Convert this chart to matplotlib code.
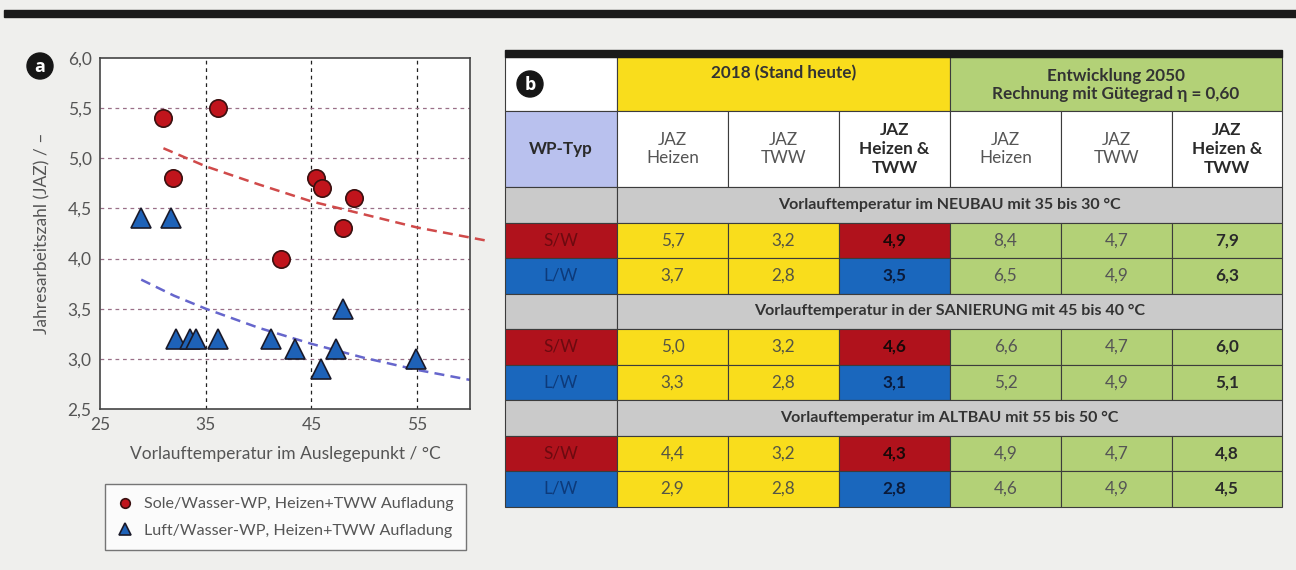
import matplotlib.pyplot as plt
from matplotlib.patches import Rectangle, Circle

W, H = 1296, 570

# panel a: measured JAZ over flow temperature
sole_x = [31.0, 36.2, 31.9, 45.4, 46.0, 49.0, 48.0, 42.1]
sole_y = [5.4, 5.5, 4.8, 4.8, 4.7, 4.6, 4.3, 4.0]
luft_x = [28.9, 31.7, 32.2, 33.5, 34.1, 36.2, 41.2, 43.4, 45.9, 47.3, 48.0, 54.9]
luft_y = [4.4, 4.4, 3.2, 3.2, 3.2, 3.2, 3.2, 3.1, 2.9, 3.1, 3.5, 3.0]

# trend curves
sole_trend_x = [31, 35, 40, 45, 50, 55, 60, 61.5]
sole_trend_y = [5.10, 4.92, 4.74, 4.57, 4.44, 4.31, 4.21, 4.18]
luft_trend_x = [28.9, 32, 35, 40, 45, 50, 55, 60]
luft_trend_y = [3.79, 3.63, 3.50, 3.31, 3.15, 3.01, 2.89, 2.79]

xticks = [25, 35, 45, 55]
yticks = [2.5, 3.0, 3.5, 4.0, 4.5, 5.0, 5.5, 6.0]

# panel b: table
head_2018 = "2018 (Stand heute)"
head_2050 = "Entwicklung 2050\nRechnung mit Gütegrad η = 0,60"
col_heads = ["JAZ\nHeizen", "JAZ\nTWW", "JAZ\nHeizen &\nTWW"] * 2
sections = ["Vorlauftemperatur im NEUBAU mit 35 bis 30 °C",
            "Vorlauftemperatur in der SANIERUNG mit 45 bis 40 °C",
            "Vorlauftemperatur im ALTBAU mit 55 bis 50 °C"]
sw_2018 = [[5.7, 3.2, 4.9], [5.0, 3.2, 4.6], [4.4, 3.2, 4.3]]
lw_2018 = [[3.7, 2.8, 3.5], [3.3, 2.8, 3.1], [2.9, 2.8, 2.8]]
sw_2050 = [[8.4, 4.7, 7.9], [6.6, 4.7, 6.0], [4.9, 4.7, 4.8]]
lw_2050 = [[6.5, 4.9, 6.3], [5.2, 4.9, 5.1], [4.6, 4.9, 4.5]]

BG = "#efefed"
RED = "#b0121c"
BLUE = "#1a67bd"
YEL = "#f9dd1c"
GRN = "#b3d177"
LAV = "#b9c1ee"
GREY = "#cacaca"
LINE = "#3c3c3c"

light = ["Lato", "DejaVu Sans"]
narrow = ["Lato", "DejaVu Sans"]


def fmt(v):
    return f"{v:.1f}".replace(".", ",")


fig = plt.figure(figsize=(W / 100, H / 100), dpi=100, facecolor=BG)

# overlay in pixel units for the table and decorations
ov = fig.add_axes([0, 0, 1, 1], zorder=0)
ov.set_xlim(0, W)
ov.set_ylim(H, 0)
ov.axis("off")
ov.add_patch(Rectangle((4, 10), W, 7, color="#1a1a1a"))


def badge(x, y, s):
    ov.add_patch(Circle((x, y), 13, color="#161616"))
    ov.text(x, y + 1, s, color="white", fontsize=13, fontweight="bold",
            ha="center", va="center", family=["Open Sans", "DejaVu Sans"])


badge(40, 66, "a")

# scatter panel
ax = fig.add_axes([100 / W, 1 - 409 / H, 370 / W, 351 / H], zorder=2)
ax.set_facecolor("white")
ax.set_xlim(25, 60)
ax.set_ylim(2.5, 6.0)
for v in [35, 45, 55]:
    ax.axvline(v, color="#222222", lw=0.9, ls=(0, (3, 3)), zorder=1)
for v in yticks[1:-1]:
    ax.axhline(v, color="#9a7088", lw=0.9, ls=(0, (3, 3)), zorder=1)
ax.plot(sole_trend_x, sole_trend_y, color="#d04a4a", lw=1.8, ls=(0, (4, 2.5)),
        clip_on=False, zorder=2)
ax.plot(luft_trend_x, luft_trend_y, color="#6666cc", lw=1.8, ls=(0, (4, 2.5)),
        zorder=2)
ax.plot(sole_x, sole_y, "o", ms=12.5, mfc="#c0141c", mec="#3a1010", mew=1.2,
        zorder=3, label="Sole/Wasser-WP, Heizen+TWW Aufladung")
ax.plot(luft_x, luft_y, "^", ms=15, mfc="#1e62b8", mec="#1a1a2a", mew=1.2,
        zorder=3, label="Luft/Wasser-WP, Heizen+TWW Aufladung")
ax.set_xticks(xticks, [str(t) for t in xticks])
ax.set_yticks(yticks, [fmt(t) for t in yticks])
ax.tick_params(length=0, labelsize=12.5, labelcolor="#555555", pad=6)
for lab in ax.get_xticklabels() + ax.get_yticklabels():
    lab.set_family(light)
for sp in ax.spines.values():
    sp.set_color("#444444")
    sp.set_linewidth(1.2)
ax.set_xlabel("Vorlauftemperatur im Auslegepunkt / °C", fontsize=12.5,
              color="#555555", family=light, labelpad=9)
ax.set_ylabel("Jahresarbeitszahl (JAZ) / –", fontsize=12.5, color="#555555",
              family=light, labelpad=12)

leg = ax.legend(loc="upper left", bbox_to_anchor=(105 / W, 1 - 484 / H),
                bbox_transform=fig.transFigure, frameon=True, fancybox=False,
                edgecolor="#555555", markerscale=0.55, handlelength=0.9,
                handletextpad=0.7, borderpad=0.8, labelspacing=0.75,
                borderaxespad=0, prop={"family": light, "size": 11.6})
leg.get_frame().set_linewidth(1.0)
for t in leg.get_texts():
    t.set_color("#555555")

# table panel
cx = [505, 617, 728, 839, 950, 1061, 1172, 1282]
lw_ = 0.8


def cell(x0, x1, y0, y1, fc, text="", tc="#444444", bold=False, size=12.3,
         ty=None):
    ov.add_patch(Rectangle((x0, y0), x1 - x0, y1 - y0, facecolor=fc,
                           edgecolor=LINE, lw=lw_))
    if text:
        ov.text((x0 + x1) / 2, (y0 + y1) / 2 if ty is None else ty, text,
                ha="center", va="center", color=tc, fontsize=size,
                fontweight="bold" if bold else "normal", family=narrow,
                linespacing=1.2)


# header rows
cell(cx[0], cx[1], 57, 111, "white")
cell(cx[1], cx[4], 57, 111, YEL, head_2018, tc="#333333", bold=True, ty=73)
cell(cx[4], cx[7], 57, 111, GRN, head_2050, tc="#333333", bold=True, ty=85)
ov.add_patch(Rectangle((cx[0], 50), cx[7] - cx[0], 7, color="#1a1a1a"))
badge(530, 84, "b")

cell(cx[0], cx[1], 111, 187, LAV, "WP-Typ", tc="#2a2a2a", bold=True)
for i, h in enumerate(col_heads):
    last = i % 3 == 2
    cell(cx[i + 1], cx[i + 2], 111, 187, "white", h,
         tc="#2a2a2a" if last else "#555555", bold=last)

rh = 35.5
for k, title in enumerate(sections):
    y = 187 + 3 * rh * k
    cell(cx[0], cx[1], y, y + rh, GREY)
    cell(cx[1], cx[7], y, y + rh, GREY, title, tc="#333333", bold=True,
         size=11.5)
    rows = [("S/W", RED, "#6c0a10", sw_2018[k], sw_2050[k]),
            ("L/W", BLUE, "#0d3a7a", lw_2018[k], lw_2050[k])]
    for j, (name, fc, tc, v18, v50) in enumerate(rows):
        y0 = y + rh * (j + 1)
        y1 = y0 + rh
        cell(cx[0], cx[1], y0, y1, fc, name, tc=tc)
        for c in range(3):
            if c == 2:
                cell(cx[c + 1], cx[c + 2], y0, y1, fc, fmt(v18[c]),
                     tc="#1a0808" if fc == RED else "#0a1a3a", bold=True)
            else:
                cell(cx[c + 1], cx[c + 2], y0, y1, YEL, fmt(v18[c]),
                     tc="#555544")
        for c in range(3):
            cell(cx[c + 4], cx[c + 5], y0, y1, GRN, fmt(v50[c]),
                 tc="#2a2a2a" if c == 2 else "#555555", bold=c == 2)

fig.savefig("out.png", dpi=100, facecolor=BG)
